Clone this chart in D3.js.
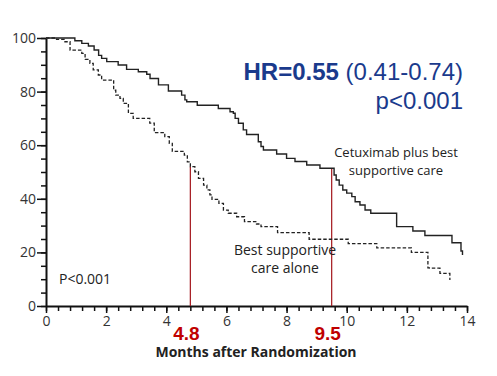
<!DOCTYPE html>
<html>
<head>
<meta charset="utf-8">
<script src="https://cdn.jsdelivr.net/npm/d3@7"></script>
<style>
  body { margin: 0; background: #fff; }
  .tick text { font-family: "Open Sans", sans-serif; font-size: 14px; fill: #333; }
  .axis path, .axis line { stroke: #111; }
</style>
</head>
<body>
<svg class="chart" width="497" height="376"></svg>
<script>
// months, % surviving -- step points
var cetuxMonths = [0, 0.96, 1.19, 1.41, 1.6, 1.75, 1.85, 2.02, 2.4, 2.68, 3.07, 3.35, 3.46, 3.74, 4.07, 4.51, 4.62, 4.68, 5.03,
                   5.73, 6.12, 6.23, 6.29, 6.4, 6.56, 6.67, 7.06, 7.15, 7.23, 7.67, 8.0, 8.28, 8.67, 9.11, 9.58, 9.65, 9.75,
                   9.87, 10.0, 10.17, 10.28, 10.44, 10.61, 10.8, 11.66, 12.2, 12.6, 13.5, 13.8, 13.85];
var cetuxSurv   = [100, 99, 98, 97, 95.5, 93.5, 92.4, 91.2, 89.9, 88.3, 87.4, 86.5, 84.9, 82.5, 80.2, 78.7, 76.9, 76.2, 74.9,
                   73.7, 72.5, 71.9, 70, 68.2, 65.7, 64, 61.3, 59.5, 58.2, 56.7, 55.1, 53.9, 52.6, 51.4, 48.9, 47, 45.1,
                   43.3, 42.1, 40.8, 38.9, 37.7, 35.8, 34.6, 29.6, 28, 26.3, 23.6, 20.5, 19];

var bscMonths = [0, 0.35, 0.63, 0.8, 1.19, 1.3, 1.46, 1.57, 1.74, 1.85, 2.25, 2.32, 2.46, 2.57, 2.74, 2.9, 3.45, 3.6, 3.95,
                 4.1, 4.2, 4.6, 4.7, 4.8, 4.95, 5.07, 5.24, 5.35, 5.45, 5.52, 5.75, 5.9, 6.06, 6.34, 6.6, 7.0, 7.15, 7.7,
                 8.75, 10.05, 11.0, 12.15, 12.7, 12.75, 13.1, 13.43];
var bscSurv   = [100, 99.5, 98.6, 95.5, 94.3, 92, 90.5, 88.1, 86.2, 84.3, 80.5, 78.7, 77.5, 75.6, 71.9, 70, 68.2, 64.7, 63.2,
                 60.7, 57.7, 56.3, 53.8, 52, 50.1, 47.6, 45.1, 43.3, 41.5, 39.8, 38.3, 35.8, 34.6, 33.3, 31.5, 30.6, 29.6, 27.4,
                 24.9, 23.3, 21.7, 20, 14.2, 14.1, 12.2, 9.7];

var medians = [4.8, 9.5];
var medianLabels = ["4.8", "9.5"];
var medianTop = [52, 51.4];

var xMajor = [0, 2, 4, 6, 8, 10, 12, 14];
var yMajor = [0, 20, 40, 60, 80, 100];

var margin = {left: 46, top: 38, right: 30, bottom: 70},
    width = 467 - 46,
    height = 306 - 38;

var x = d3.scaleLinear().domain([0, 14]).range([0, width]);
var y = d3.scaleLinear().domain([0, 100]).range([height, 0]);

var svg = d3.select(".chart")
  .append("g")
    .attr("transform", "translate(" + margin.left + "," + margin.top + ")");

// minor ticks
svg.append("g")
    .attr("class", "axis")
    .attr("transform", "translate(0," + height + ")")
    .call(d3.axisBottom(x).tickValues(d3.range(0, 14.01, 0.4)).tickSize(5).tickFormat(""))
    .call(function(g) { g.select(".domain").remove(); });
svg.append("g")
    .attr("class", "axis")
    .call(d3.axisLeft(y).tickValues(d3.range(0, 101, 5)).tickSize(5).tickFormat(""))
    .call(function(g) { g.select(".domain").remove(); });

// major ticks + labels
svg.append("g")
    .attr("class", "axis")
    .attr("transform", "translate(0," + height + ")")
    .call(d3.axisBottom(x).tickValues(xMajor).tickSize(7).tickSizeOuter(0).tickPadding(3))
    .call(function(g) { g.select(".domain").attr("stroke-width", 2); });
svg.append("g")
    .attr("class", "axis")
    .call(d3.axisLeft(y).tickValues(yMajor).tickSize(9).tickSizeOuter(0).tickPadding(1))
    .call(function(g) { g.select(".domain").attr("stroke-width", 2); });

svg.selectAll(".axis line").attr("stroke-width", 1.5);

var line = d3.line()
    .x(function(d) { return x(d[0]); })
    .y(function(d) { return y(d[1]); })
    .curve(d3.curveStepAfter);

// red median lines
svg.selectAll(".median")
    .data(medians)
  .enter().append("line")
    .attr("class", "median")
    .attr("x1", function(d) { return x(d); })
    .attr("x2", function(d) { return x(d); })
    .attr("y1", function(d, i) { return y(medianTop[i]); })
    .attr("y2", y(0))
    .attr("stroke", "#a3151b")
    .attr("stroke-width", 1.2);

svg.append("path")
    .datum(d3.zip(cetuxMonths, cetuxSurv))
    .attr("fill", "none")
    .attr("stroke", "#222")
    .attr("stroke-width", 1.4)
    .attr("d", line);

svg.append("path")
    .datum(d3.zip(bscMonths, bscSurv))
    .attr("fill", "none")
    .attr("stroke", "#222")
    .attr("stroke-width", 1.3)
    .attr("stroke-dasharray", "3.5,2")
    .attr("d", line);

svg.selectAll(".median-label")
    .data(medians)
  .enter().append("text")
    .attr("class", "median-label")
    .attr("x", function(d) { return x(d) - 4; })
    .attr("y", height + 34)
    .style("text-anchor", "middle")
    .style("font-family", "Liberation Sans, Arial, sans-serif")
    .style("font-weight", "bold")
    .style("font-size", "19px")
    .attr("fill", "#c00000")
    .text(function(d, i) { return medianLabels[i]; });

svg.append("text")
    .attr("x", 210)
    .attr("y", height + 51)
    .style("text-anchor", "middle")
    .style("font-family", "Open Sans, sans-serif")
    .style("font-weight", "bold")
    .style("font-size", "14px")
    .attr("fill", "#222")
    .text("Months after Randomization");

// HR annotation, right aligned
var hr = svg.append("text")
    .attr("x", 417)
    .attr("y", 42)
    .style("text-anchor", "end")
    .style("font-family", "Liberation Sans, Arial, sans-serif")
    .style("font-size", "24px")
    .attr("fill", "#1a3a8c");
hr.append("tspan").style("font-weight", "bold").text("HR=0.55");
hr.append("tspan").text(" (0.41-0.74)");

svg.append("text")
    .attr("x", 417)
    .attr("y", 71)
    .style("text-anchor", "end")
    .style("font-family", "Liberation Sans, Arial, sans-serif")
    .style("font-size", "24px")
    .attr("fill", "#1a3a8c")
    .text("p<0.001");

function label(lines, cx, y0, size) {
  var t = svg.append("text")
      .style("text-anchor", "middle")
      .style("font-family", "Open Sans, sans-serif")
      .style("font-size", size)
      .attr("fill", "#222");
  lines.forEach(function(s, i) {
    t.append("tspan").attr("x", cx).attr("y", y0 + i * 18).text(s);
  });
}
label(["Cetuximab plus best", "supportive care"], 350, 119, "13px");
label(["Best supportive", "care alone"], 239, 217, "14px");

svg.append("text")
    .attr("x", 13)
    .attr("y", 246)
    .style("font-family", "Open Sans, sans-serif")
    .style("font-size", "14px")
    .attr("fill", "#222")
    .text("P<0.001");
</script>
</body>
</html>
